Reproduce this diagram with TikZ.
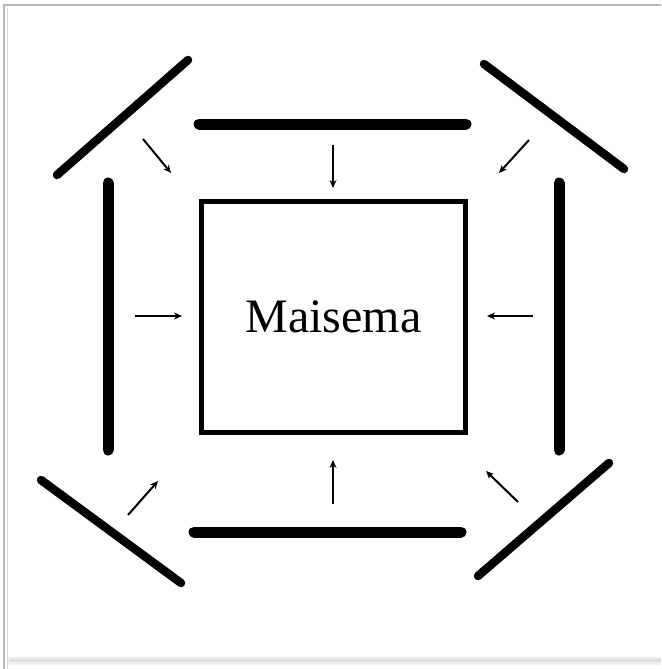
\documentclass[tikz,border=0pt]{standalone}
\usepackage{fontspec}
\setmainfont{Liberation Serif}
\usetikzlibrary{arrows.meta}
\begin{document}
\begin{tikzpicture}[x=1pt,y=-1pt,
  bar/.style={line width=11pt,line cap=round},
  diag/.style={line width=8.5pt,line cap=round},
  flow/.style={line width=2pt,-{Stealth[length=8pt,width=7pt]}},
  centerbox/.style={draw,line width=4.5pt,minimum width=264pt,minimum height=231pt,inner sep=0pt,font=\fontsize{48}{50}\selectfont}]
\useasboundingbox (0,0) rectangle (661,669);
% frame
\fill[gray!12] (8,657) rectangle (661,665);
\fill[gray!25] (10,659) rectangle (661,662);
\draw[gray!55,line width=1.5pt] (4,669) -- (4,5) -- (661,5);
\draw[gray!30,line width=1pt] (7,669) -- (7,8);
% center
\node[centerbox] (m) at (333.5,317) {Maisema};
% bars
\draw[bar] (199,124) -- (466,124);
\draw[bar] (194,532) -- (461,532);
\draw[bar] (108,183) -- (108,450);
\draw[bar] (559,183) -- (559,450);
% diagonals
\draw[diag] (57,175) -- (188,60);
\draw[diag] (484,64) -- (624,169);
\draw[diag] (41,480) -- (181,583);
\draw[diag] (478,576) -- (609,463);
% arrow coordinates
\coordinate (tA) at (333,145); \coordinate (tB) at (333,188);
\coordinate (bA) at (333,504); \coordinate (bB) at (333,460);
\coordinate (lA) at (135,316); \coordinate (lB) at (182,316);
\coordinate (rA) at (533,316); \coordinate (rB) at (487,316);
\coordinate (tlA) at (143,139); \coordinate (tlB) at (171,173);
\coordinate (trA) at (529,140); \coordinate (trB) at (499,173);
\coordinate (blA) at (128,515); \coordinate (blB) at (158,481);
\coordinate (brA) at (518,502); \coordinate (brB) at (486,471);
\foreach \a in {t,b,l,r,tl,tr,bl,br}
  \draw[flow] (\a A) -- (\a B);
\end{tikzpicture}
\end{document}
